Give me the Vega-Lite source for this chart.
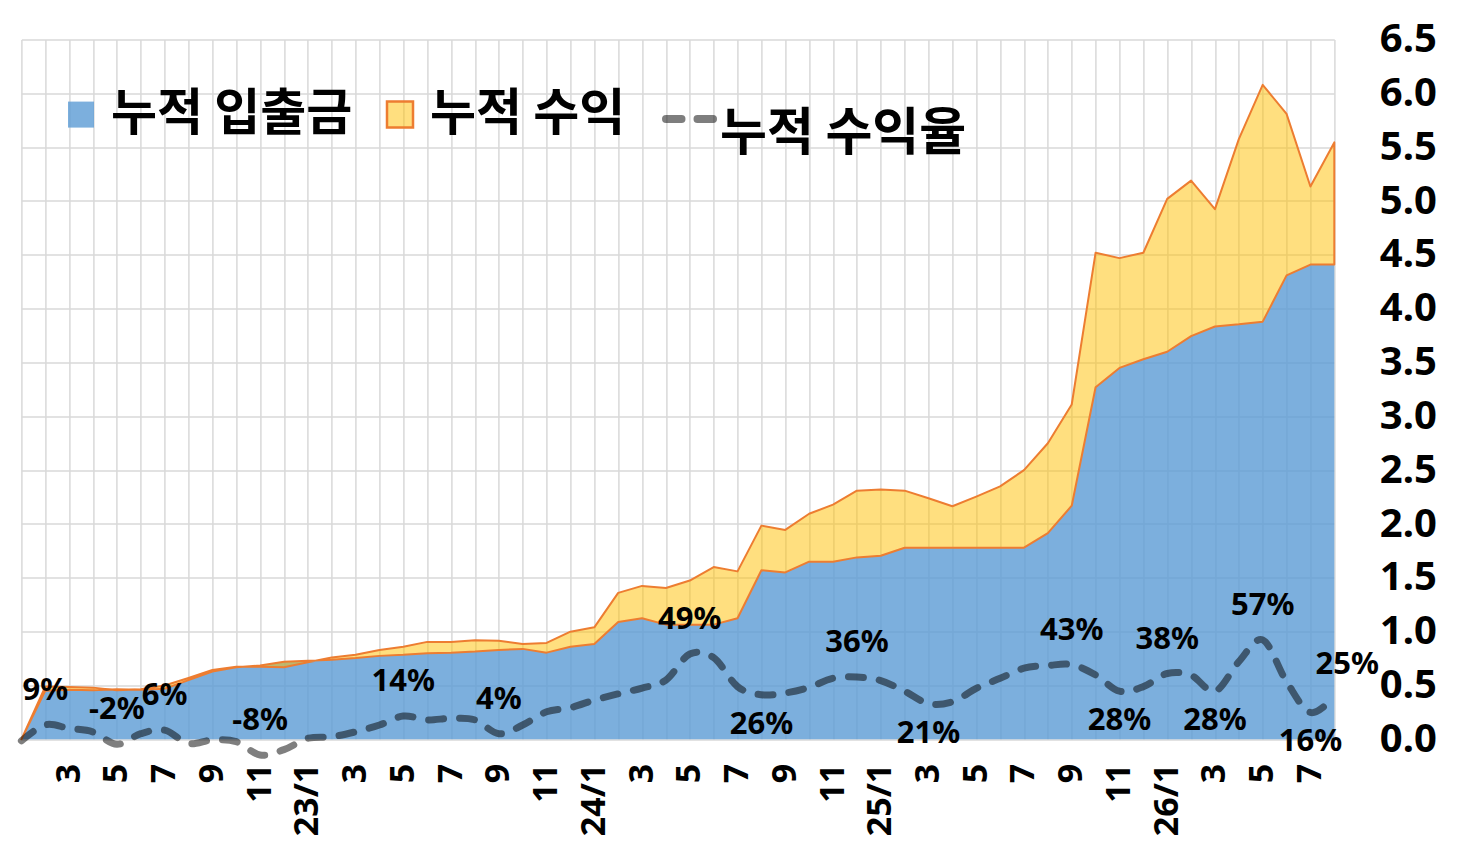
{
  "$schema": "https://vega.github.io/schema/vega-lite/v6.json",
  "width": 1312.9,
  "height": 699.7,
  "autosize": {"type": "none"},
  "padding": {"left": 21.4, "top": 39.6, "right": 130.7, "bottom": 111.7},
  "background": "white",
  "config": {
    "view": {"stroke": null},
    "locale": {"number": {"decimal": ".", "thousands": ",", "grouping": [3], "currency": ["", ""], "minus": "-"}},
    "axis": {"gridColor": "#D9D9D9", "gridWidth": 1.5, "domain": false, "ticks": false, "tickSize": 0, "labelColor": "#000000", "labelFont": "Noto Sans", "labelFontWeight": "bold"}
  },
  "data": {"values": [
    {"m": "22/1", "dep": 0, "total": 0, "pct": 0},
    {"m": "22/2", "dep": 0.45, "total": 0.49, "pct": 0.09},
    {"m": "22/3", "dep": 0.46, "total": 0.485, "pct": 0.07},
    {"m": "22/4", "dep": 0.455, "total": 0.48, "pct": 0.05},
    {"m": "22/5", "dep": 0.465, "total": 0.455, "pct": -0.02},
    {"m": "22/6", "dep": 0.46, "total": 0.465, "pct": 0.04},
    {"m": "22/7", "dep": 0.47, "total": 0.5, "pct": 0.06},
    {"m": "22/8", "dep": 0.55, "total": 0.57, "pct": -0.015},
    {"m": "22/9", "dep": 0.63, "total": 0.645, "pct": 0.005},
    {"m": "22/10", "dep": 0.67, "total": 0.675, "pct": -0.005},
    {"m": "22/11", "dep": 0.685, "total": 0.675, "pct": -0.08},
    {"m": "22/12", "dep": 0.72, "total": 0.67, "pct": -0.05},
    {"m": "23/1", "dep": 0.73, "total": 0.715, "pct": 0.014},
    {"m": "23/2", "dep": 0.74, "total": 0.76, "pct": 0.023},
    {"m": "23/3", "dep": 0.755, "total": 0.785, "pct": 0.051},
    {"m": "23/4", "dep": 0.775, "total": 0.83, "pct": 0.089},
    {"m": "23/5", "dep": 0.785, "total": 0.86, "pct": 0.14},
    {"m": "23/6", "dep": 0.8, "total": 0.905, "pct": 0.118},
    {"m": "23/7", "dep": 0.805, "total": 0.905, "pct": 0.127},
    {"m": "23/8", "dep": 0.815, "total": 0.92, "pct": 0.118},
    {"m": "23/9", "dep": 0.83, "total": 0.915, "pct": 0.04},
    {"m": "23/10", "dep": 0.84, "total": 0.885, "pct": 0.089},
    {"m": "23/11", "dep": 0.805, "total": 0.895, "pct": 0.164},
    {"m": "23/12", "dep": 0.86, "total": 1.0, "pct": 0.187},
    {"m": "24/1", "dep": 0.885, "total": 1.04, "pct": 0.23},
    {"m": "24/2", "dep": 1.09, "total": 1.36, "pct": 0.265},
    {"m": "24/3", "dep": 1.125, "total": 1.425, "pct": 0.298},
    {"m": "24/4", "dep": 1.065, "total": 1.405, "pct": 0.343},
    {"m": "24/5", "dep": 1.065, "total": 1.475, "pct": 0.49},
    {"m": "24/6", "dep": 1.065, "total": 1.6, "pct": 0.47},
    {"m": "24/7", "dep": 1.125, "total": 1.56, "pct": 0.306},
    {"m": "24/8", "dep": 1.57, "total": 1.985, "pct": 0.26},
    {"m": "24/9", "dep": 1.55, "total": 1.945, "pct": 0.27},
    {"m": "24/10", "dep": 1.65, "total": 2.095, "pct": 0.302},
    {"m": "24/11", "dep": 1.65, "total": 2.18, "pct": 0.353},
    {"m": "24/12", "dep": 1.69, "total": 2.31, "pct": 0.36},
    {"m": "25/1", "dep": 1.705, "total": 2.32, "pct": 0.34},
    {"m": "25/2", "dep": 1.78, "total": 2.31, "pct": 0.28},
    {"m": "25/3", "dep": 1.78, "total": 2.24, "pct": 0.21},
    {"m": "25/4", "dep": 1.78, "total": 2.165, "pct": 0.22},
    {"m": "25/5", "dep": 1.78, "total": 2.255, "pct": 0.296},
    {"m": "25/6", "dep": 1.78, "total": 2.35, "pct": 0.353},
    {"m": "25/7", "dep": 1.78, "total": 2.5, "pct": 0.41},
    {"m": "25/8", "dep": 1.915, "total": 2.75, "pct": 0.425},
    {"m": "25/9", "dep": 2.17, "total": 3.11, "pct": 0.43},
    {"m": "25/10", "dep": 3.27, "total": 4.52, "pct": 0.372},
    {"m": "25/11", "dep": 3.45, "total": 4.47, "pct": 0.28},
    {"m": "25/12", "dep": 3.53, "total": 4.52, "pct": 0.306},
    {"m": "26/1", "dep": 3.6, "total": 5.02, "pct": 0.38},
    {"m": "26/2", "dep": 3.745, "total": 5.19, "pct": 0.37},
    {"m": "26/3", "dep": 3.835, "total": 4.925, "pct": 0.28},
    {"m": "26/4", "dep": 3.855, "total": 5.575, "pct": 0.447},
    {"m": "26/5", "dep": 3.88, "total": 6.08, "pct": 0.57},
    {"m": "26/6", "dep": 4.31, "total": 5.81, "pct": 0.334},
    {"m": "26/7", "dep": 4.41, "total": 5.135, "pct": 0.16},
    {"m": "26/8", "dep": 4.41, "total": 5.545, "pct": 0.25}
  ]},
  "encoding": {
    "x": {
      "field": "m", "type": "ordinal", "sort": null, "title": null,
      "scale": {"type": "point", "padding": 0},
      "axis": {
        "labelAngle": -90, "labelFontSize": 34, "labelPadding": 24, "grid": true, "labelOverlap": false,
        "labelExpr": "datum.value == '22/1' ? '' : (parseInt(split(datum.value, '/')[1]) % 2 == 0 ? '' : (split(datum.value, '/')[1] == '1' ? datum.value : split(datum.value, '/')[1]))"
      }
    }
  },
  "layer": [
    {
      "layer": [
        {
          "mark": {"type": "area", "fillOpacity": 0.8, "strokeWidth": 0},
          "encoding": {
            "y": {
              "field": "dep", "type": "quantitative", "title": null,
              "scale": {"domain": [0, 6.5], "nice": false},
              "axis": {"orient": "right", "values": [0, 0.5, 1, 1.5, 2, 2.5, 3, 3.5, 4, 4.5, 5, 5.5, 6, 6.5], "format": ".1f", "labelFontSize": 40, "labelPadding": 45, "labelAlign": "left", "grid": true}
            },
            "fill": {
              "datum": "누적 입출금", "type": "nominal",
              "scale": {"domain": ["누적 입출금", "누적 수익"], "range": ["#5B9BD5", "#FFC000"]},
              "legend": {
                "orient": "none", "legendX": 34.6, "legendY": 50, "direction": "horizontal", "title": null,
                "symbolType": "square", "symbolSize": 676, "symbolStrokeWidth": 2.5,
                "labelFontSize": 50, "labelFont": "Noto Sans CJK KR", "labelFontWeight": "bold", "labelColor": "#000000",
                "labelOffset": 5, "columnPadding": 22, "padding": 0, "labelLimit": 0,
                "encode": {"symbols": {"update": {
                  "stroke": {"signal": "datum.value === '누적 수익' ? '#ED7D31' : 'transparent'"},
                  "fillOpacity": {"signal": "datum.value === '누적 수익' ? 0.5 : 0.8"},
                  "opacity": {"value": 1}
                }}}
              }
            }
          }
        },
        {
          "mark": {"type": "area", "fillOpacity": 0.5, "stroke": "#ED7D31", "strokeWidth": 2, "strokeJoin": "round"},
          "encoding": {
            "y": {"field": "total", "type": "quantitative", "title": null},
            "y2": {"field": "dep"},
            "fill": {"datum": "누적 수익", "type": "nominal"}
          }
        }
      ]
    },
    {
      "layer": [
        {
          "mark": {"type": "line", "interpolate": "cardinal", "strokeWidth": 7, "strokeDash": [15, 16], "strokeCap": "round", "strokeOpacity": 0.5},
          "encoding": {
            "y": {"field": "pct", "type": "quantitative", "title": null, "scale": {"domain": [0.0085, 3.96], "nice": false, "zero": false}, "axis": null},
            "stroke": {
              "datum": "누적 수익율", "type": "nominal",
              "scale": {"domain": ["누적 수익율"], "range": ["#000000"]},
              "legend": {
                "orient": "none", "legendX": 640.6, "legendY": 52, "title": null,
                "symbolType": "stroke", "symbolSize": 2209, "symbolStrokeWidth": 8, "symbolDash": [15.5, 16], "symbolOpacity": 0.5,
                "labelFontSize": 51, "labelFont": "Noto Sans CJK KR", "labelFontWeight": "bold", "labelColor": "#000000",
                "labelOffset": 3, "padding": 0, "labelLimit": 0,
                "encode": {
                  "symbols": {"update": {"strokeCap": {"value": "round"}}},
                  "labels": {"update": {"dy": {"value": 16}}}
                }
              }
            }
          }
        },
        {
          "transform": [{"filter": {"field": "m", "oneOf": ["22/2", "22/5", "22/7", "22/11", "23/5", "23/9", "24/5", "24/12", "25/9", "26/1", "26/5"]}}],
          "mark": {"type": "text", "dy": -34, "fontSize": 31, "font": "Noto Sans", "fontWeight": "bold", "color": "#000000"},
          "encoding": {
            "y": {"field": "pct", "type": "quantitative", "title": null, "scale": {"domain": [0.0085, 3.96], "nice": false, "zero": false}, "axis": null},
            "text": {"field": "pct", "type": "quantitative", "format": ".0%"}
          }
        },
        {
          "transform": [{"filter": {"field": "m", "oneOf": ["24/8", "25/3", "25/11", "26/3", "26/7"]}}],
          "mark": {"type": "text", "dy": 30, "fontSize": 31, "font": "Noto Sans", "fontWeight": "bold", "color": "#000000"},
          "encoding": {
            "y": {"field": "pct", "type": "quantitative", "title": null, "scale": {"domain": [0.0085, 3.96], "nice": false, "zero": false}, "axis": null},
            "text": {"field": "pct", "type": "quantitative", "format": ".0%"}
          }
        },
        {
          "transform": [{"filter": {"field": "m", "oneOf": ["26/8"]}}],
          "mark": {"type": "text", "dy": -32, "dx": 13, "fontSize": 31, "font": "Noto Sans", "fontWeight": "bold", "color": "#000000"},
          "encoding": {
            "y": {"field": "pct", "type": "quantitative", "title": null, "scale": {"domain": [0.0085, 3.96], "nice": false, "zero": false}, "axis": null},
            "text": {"field": "pct", "type": "quantitative", "format": ".0%"}
          }
        }
      ]
    }
  ],
  "resolve": {"scale": {"y": "independent"}}
}
